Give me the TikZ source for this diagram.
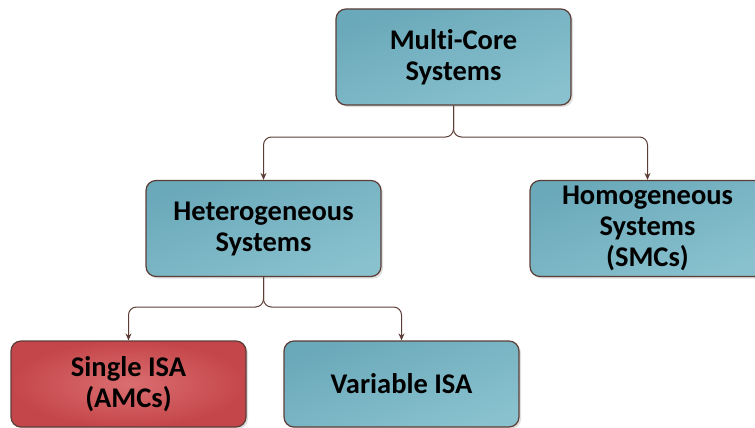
\documentclass[tikz,border=0pt]{standalone}
\usepackage{fontspec}
\setmainfont{Carlito}[Ligatures=NoCommon]
\usetikzlibrary{arrows.meta,shadows,calc}
\definecolor{tealA}{HTML}{6AA9BA}
\definecolor{tealB}{HTML}{89C1CE}
\definecolor{redIn}{HTML}{DA6E70}
\definecolor{redOut}{HTML}{C5464A}
\definecolor{edge}{HTML}{5C3E37}
\tikzset{
  box/.style={draw=edge, line width=1.2pt, rounded corners=10pt,
    minimum width=235pt, minimum height=96pt, align=center, inner sep=0pt,
    font=\fontsize{28.5}{31}\selectfont\bfseries,
    drop shadow={shadow xshift=2pt, shadow yshift=-2pt, opacity=0.25}},
  lowbox/.style={minimum height=86pt},
  tealbox/.style={box, top color=tealA, bottom color=tealB, shading angle=20},
  redbox/.style={box, inner color=redIn, outer color=redOut},
  conn/.style={draw=edge, line width=1pt, rounded corners=8pt,
    -{Stealth[length=7pt,width=6pt]}}
}
\begin{document}
\begin{tikzpicture}[x=1pt,y=-1pt]
\useasboundingbox (0,0) rectangle (755,428);
\clip (0,0) rectangle (755,428);
\node[tealbox] (mc) at (453.5,57) {Multi-Core\\Systems};
\node[tealbox] (het) at (263.5,228.5) {Heterogeneous\\Systems};
\node[tealbox] (hom) at (647.5,228.5) {Homogeneous\\Systems\\(SMCs)};
\node[redbox, lowbox] (sin) at (128.5,384) {Single ISA\\(AMCs)};
\node[tealbox, lowbox] (var) at (401.5,384) {Variable ISA};
\coordinate (b1) at (453.5,137);
\coordinate (b2) at (263.5,307);
\draw[conn] (mc.south) |- (het.north |- b1) -- (het.north);
\draw[conn] (mc.south) |- (hom.north |- b1) -- (hom.north);
\draw[conn] (het.south) |- (sin.north |- b2) -- (sin.north);
\draw[conn] (het.south) |- (var.north |- b2) -- (var.north);
\end{tikzpicture}
\end{document}
